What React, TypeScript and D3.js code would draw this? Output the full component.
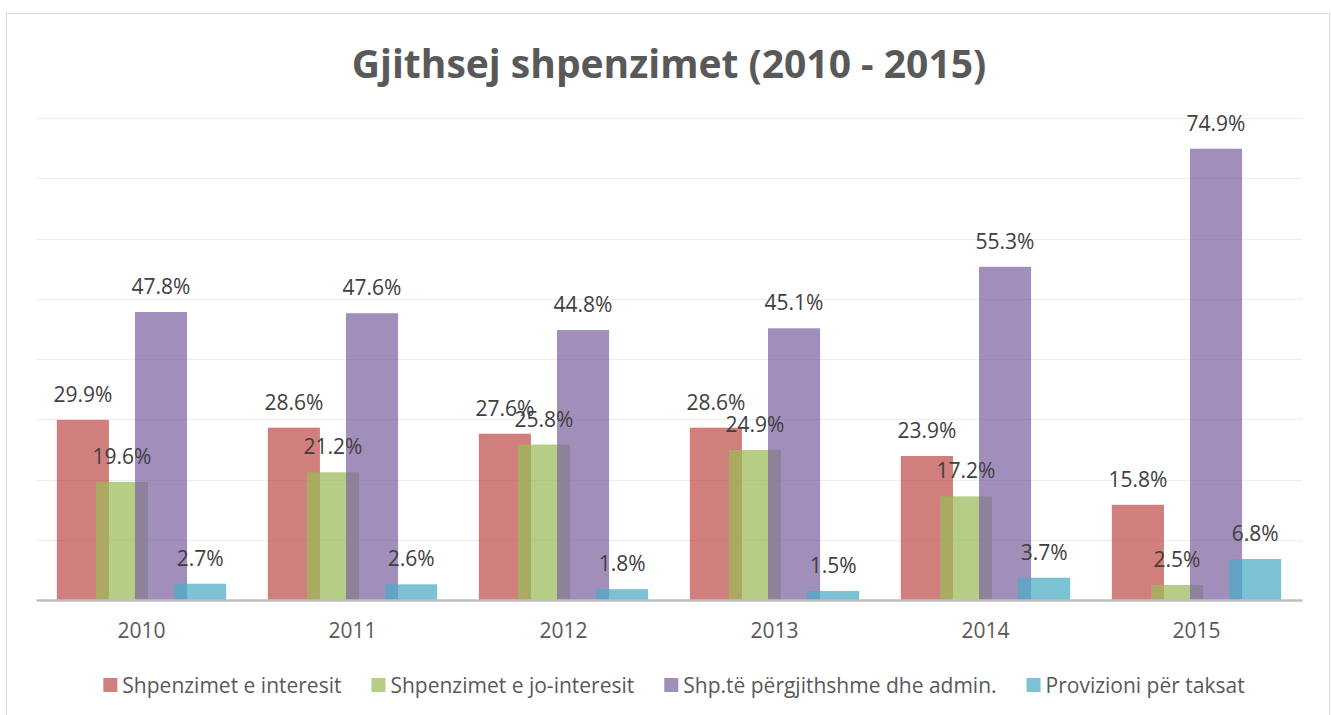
import React, { useEffect, useRef } from 'react';
import * as d3 from 'd3';

const years = ['2010', '2011', '2012', '2013', '2014', '2015'];
const seriesNames = [
  'Shpenzimet e interesit',
  'Shpenzimet e jo-interesit',
  'Shp.të përgjithshme dhe admin.',
  'Provizioni për taksat',
];
const interesit = [29.9, 28.6, 27.6, 28.6, 23.9, 15.8];
const joInteresit = [19.6, 21.2, 25.8, 24.9, 17.2, 2.5];
const admin = [47.8, 47.6, 44.8, 45.1, 55.3, 74.9];
const taksat = [2.7, 2.6, 1.8, 1.5, 3.7, 6.8];
const colors = ['#C0504D', '#9BBB59', '#8064A2', '#4BACC6'];
const yTicks = [0, 10, 20, 30, 40, 50, 60, 70, 80];

const W = 1331;
const H = 715;
const FONT = "'Open Sans', 'Segoe UI', sans-serif";

const App = () => {
  const svgRef = useRef<SVGSVGElement>(null);

  useEffect(() => {
    document.body.style.margin = '0';
    const svg = d3.select(svgRef.current);
    svg.selectAll('*').remove();

    const values = [interesit, joInteresit, admin, taksat];
    const margin = { top: 118, right: 29, bottom: 115, left: 36 };
    const plotW = W - margin.left - margin.right;

    // chart area frame
    svg.append('rect')
      .attr('x', 6.5).attr('y', 13.5)
      .attr('width', 1323).attr('height', 720)
      .attr('fill', '#fff')
      .attr('stroke', '#d9d9d9')
      .attr('stroke-width', 1);

    svg.append('text')
      .attr('x', 669)
      .attr('y', 78)
      .attr('text-anchor', 'middle')
      .attr('font-family', FONT)
      .attr('font-weight', 700)
      .attr('font-size', 39)
      .attr('fill', '#595959')
      .text('Gjithsej shpenzimet (2010 - 2015)');

    const x = d3.scaleBand().domain(years).range([margin.left, margin.left + plotW]);
    const y = d3.scaleLinear().domain([0, 80]).range([H - margin.bottom, margin.top]);

    // Excel-like: overlap 25%, gap width 80%
    const n = values.length;
    const overlap = 0.25;
    const gap = 0.8;
    const barW = x.bandwidth() / (gap + 1 + (n - 1) * (1 - overlap));
    const barStep = barW * (1 - overlap);
    const groupW = barW + (n - 1) * barStep;

    const g = svg.append('g');

    g.append('g')
      .selectAll('line')
      .data(yTicks.slice(1))
      .enter().append('line')
      .attr('x1', margin.left).attr('x2', margin.left + plotW)
      .attr('y1', d => Math.round(y(d)) + 0.5)
      .attr('y2', d => Math.round(y(d)) + 0.5)
      .attr('stroke', '#ededed')
      .attr('stroke-width', 1);

    values.forEach((vals, si) => {
      const bx = (i: number) => (x(years[i]) as number) + (x.bandwidth() - groupW) / 2 + si * barStep;
      g.append('g')
        .selectAll('rect')
        .data(vals)
        .enter().append('rect')
        .attr('x', (d, i) => bx(i))
        .attr('y', d => y(d))
        .attr('width', barW)
        .attr('height', d => y(0) - y(d))
        .attr('fill', colors[si])
        .attr('fill-opacity', 0.73);
    });

    values.forEach((vals, si) => {
      const bx = (i: number) => (x(years[i]) as number) + (x.bandwidth() - groupW) / 2 + si * barStep;
      g.append('g')
        .selectAll('text')
        .data(vals)
        .enter().append('text')
        .attr('x', (d, i) => bx(i) + barW / 2)
        .attr('y', d => y(d) - 18)
        .attr('text-anchor', 'middle')
        .attr('font-family', FONT)
        .attr('font-size', 21)
        .attr('fill', '#404040')
        .text(d => `${d.toFixed(1)}%`);
    });

    // baseline axis
    const xAxis = g.append('g')
      .attr('transform', `translate(0,${y(0)})`)
      .call(d3.axisBottom(x).tickSize(0).tickPadding(23));
    xAxis.select('.domain').attr('stroke', '#bfbfbf').attr('stroke-width', 2.5);
    xAxis.selectAll('text')
      .attr('font-family', FONT)
      .attr('font-size', 21)
      .attr('fill', '#595959');

    // legend
    const legend = svg.append('g');
    const items = legend.selectAll('g')
      .data(seriesNames)
      .enter().append('g');
    items.append('rect')
      .attr('width', 14).attr('height', 14)
      .attr('y', -8)
      .attr('fill', (d, i) => colors[i])
      .attr('fill-opacity', 0.73);
    items.append('text')
      .attr('x', 19)
      .attr('y', 0)
      .attr('dy', '0.35em')
      .attr('font-family', FONT)
      .attr('font-size', 21)
      .attr('fill', '#595959')
      .text(d => d);
    const widths: number[] = [];
    items.each(function () {
      const t = d3.select(this).select('text').node() as SVGTextElement;
      widths.push(19 + t.getComputedTextLength());
    });
    const itemGap = 30;
    const total = d3.sum(widths) + itemGap * (widths.length - 1);
    let cx = 674 - total / 2;
    items.attr('transform', (d, i) => {
      const t = `translate(${cx},686)`;
      cx += widths[i] + itemGap;
      return t;
    });
  }, []);

  return (
    <svg ref={svgRef} width={W} height={H} style={{ display: 'block', background: '#fff' }} />
  );
};

export default App;
